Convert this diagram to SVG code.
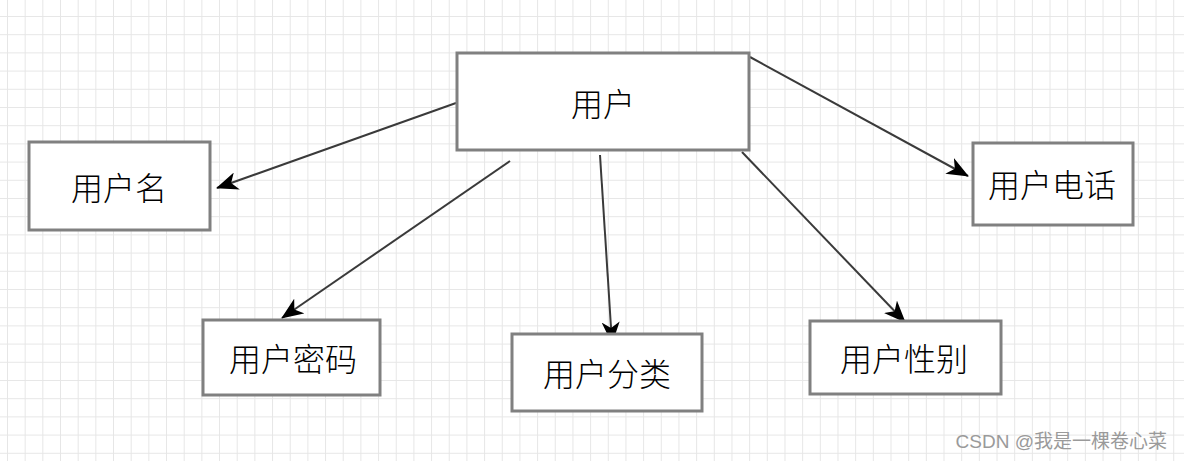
<svg xmlns="http://www.w3.org/2000/svg" width="1184" height="461" viewBox="0 0 1184 461">
  <defs>
    <pattern id="grid" x="7" y="16" width="17.67" height="18.2" patternUnits="userSpaceOnUse">
      <path d="M0 0 V18.2 M0 0 H17.67" fill="none" stroke="#e6e6e6" stroke-width="2"/>
    </pattern>
    <marker id="arrow" viewBox="0 0 22 18" refX="21" refY="9" markerWidth="22" markerHeight="18" markerUnits="userSpaceOnUse" orient="auto">
      <path d="M0 0 L22 9 L0 18 L6 9 Z" fill="#000"/>
    </marker>
  </defs>
  <style>
    .box { fill: #fff; stroke: #808080; stroke-width: 3; }
    .lbl { font-family: "Noto Sans CJK SC", "Noto Sans", sans-serif; font-size: 32px; font-weight: 300; fill: #000; text-anchor: middle; dominant-baseline: central; }
    .edge { fill: none; stroke: #3a3a3a; stroke-width: 2; marker-end: url(#arrow); }
    .wm { font-family: "Liberation Sans", "Noto Sans CJK SC", sans-serif; font-size: 19px; fill: #9a9a9a; text-anchor: end; }
  </style>
  <rect width="1184" height="461" fill="#fff"/>
  <rect width="1184" height="461" fill="url(#grid)"/>

  <g id="edges">
    <line class="edge" x1="456" y1="103" x2="217" y2="188"/>
    <line class="edge" x1="510" y1="161" x2="282" y2="318"/>
    <line class="edge" x1="600" y1="155" x2="612" y2="343"/>
    <line class="edge" x1="742" y1="152" x2="905" y2="322"/>
    <line class="edge" x1="750" y1="57" x2="968" y2="176"/>
  </g>

  <g id="user">
    <rect class="box" x="457" y="53" width="292" height="97"/>
    <text class="lbl" x="603" y="102">用户</text>
  </g>
  <g id="username">
    <rect class="box" x="29" y="142" width="181" height="88"/>
    <text class="lbl" x="119" y="186">用户名</text>
  </g>
  <g id="password">
    <rect class="box" x="203" y="320" width="177" height="75"/>
    <text class="lbl" x="293" y="357">用户密码</text>
  </g>
  <g id="category">
    <rect class="box" x="512" y="334" width="190" height="77"/>
    <text class="lbl" x="607" y="372">用户分类</text>
  </g>
  <g id="gender">
    <rect class="box" x="810" y="321" width="191" height="73"/>
    <text class="lbl" x="904" y="357">用户性别</text>
  </g>
  <g id="phone">
    <rect class="box" x="973" y="143" width="160" height="82"/>
    <text class="lbl" x="1052" y="183">用户电话</text>
  </g>

  <text class="wm" x="1167" y="448">CSDN @我是一棵卷心菜</text>
</svg>
